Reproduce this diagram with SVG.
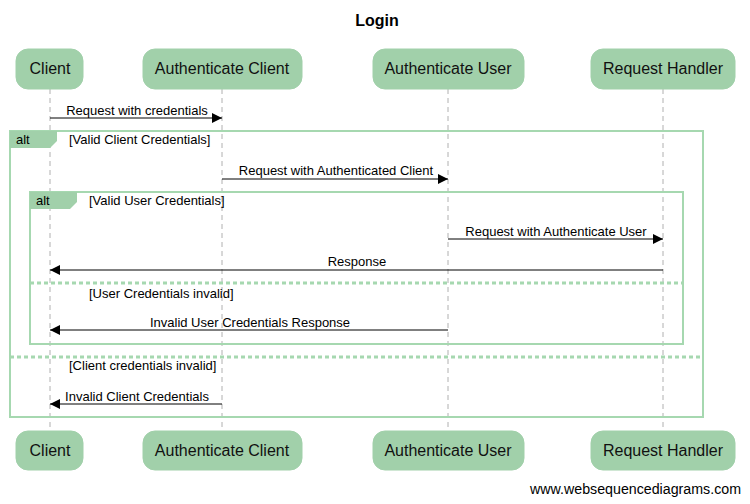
<svg xmlns="http://www.w3.org/2000/svg" width="750" height="504" viewBox="0 0 750 504">
<defs>
<style>
.box{fill:#a1d0aa;stroke:#a1d0aa;stroke-width:1}
.pt{font-family:"Liberation Sans",Arial,sans-serif;font-size:16px;fill:#111;text-anchor:middle}
.life{stroke:#b0b0b0;stroke-width:1;stroke-dasharray:5,4}
.msg{stroke:#000;stroke-width:1;fill:none}
.ml{font-family:"Liberation Sans",Arial,sans-serif;font-size:13px;fill:#000;text-anchor:middle}
.fl{font-family:"Liberation Sans",Arial,sans-serif;font-size:13px;fill:#000}
.frame{fill:none;stroke:#a6d8b0;stroke-width:2}
.tab{fill:#a1d0aa;stroke:none}
.sep{stroke:#a6d8b0;stroke-width:3;stroke-dasharray:4,3}
</style>
<marker id="ah" viewBox="0 0 10 10" refX="10" refY="5" markerWidth="10" markerHeight="10" markerUnits="userSpaceOnUse" orient="auto">
<path d="M0,0 L10,5 L0,10 z" fill="#000"/>
</marker>
</defs>
<rect width="750" height="504" fill="#fff"/>
<text x="377" y="26" font-family="Liberation Sans,Arial,sans-serif" font-size="16" font-weight="bold" text-anchor="middle" fill="#000">Login</text>

<g id="lifelines">
<line class="life" x1="50" y1="89" x2="50" y2="431"/>
<line class="life" x1="222" y1="89" x2="222" y2="431"/>
<line class="life" x1="448" y1="89" x2="448" y2="431"/>
<line class="life" x1="663" y1="89" x2="663" y2="431"/>
</g>

<g id="frames">
<rect class="frame" x="10" y="131" width="693" height="286"/>
<path class="tab" d="M10,131 H57 V141 L50,148 H10 z"/>
<text class="fl" x="16" y="144">alt</text>
<text class="fl" x="69" y="144">[Valid Client Credentials]</text>
<line class="sep" x1="10" y1="357" x2="703" y2="357"/>
<text class="fl" x="69" y="370">[Client credentials invalid]</text>

<rect class="frame" x="30" y="192" width="653" height="152"/>
<path class="tab" d="M30,192 H77 V202 L70,209 H30 z"/>
<text class="fl" x="36" y="205">alt</text>
<text class="fl" x="89" y="205">[Valid User Credentials]</text>
<line class="sep" x1="30" y1="283" x2="683" y2="283"/>
<text class="fl" x="89" y="298">[User Credentials invalid]</text>
</g>

<g id="connectors">
<line class="msg" x1="50" y1="118" x2="222" y2="118" marker-end="url(#ah)"/>
<text class="ml" x="137" y="115">Request with credentials</text>
<line class="msg" x1="222" y1="179" x2="448" y2="179" marker-end="url(#ah)"/>
<text class="ml" x="336" y="175">Request with Authenticated Client</text>
<line class="msg" x1="448" y1="239" x2="663" y2="239" marker-end="url(#ah)"/>
<text class="ml" x="556" y="236">Request with Authenticate User</text>
<line class="msg" x1="663" y1="270" x2="50" y2="270" marker-end="url(#ah)"/>
<text class="ml" x="357" y="266">Response</text>
<line class="msg" x1="448" y1="330" x2="50" y2="330" marker-end="url(#ah)"/>
<text class="ml" x="250" y="327">Invalid User Credentials Response</text>
<line class="msg" x1="222" y1="404" x2="50" y2="404" marker-end="url(#ah)"/>
<text class="ml" x="137" y="401">Invalid Client Credentials</text>
</g>

<g id="client-top"><rect class="box" x="16" y="49" width="67" height="40" rx="12"/><text class="pt" x="50" y="74">Client</text></g>
<g id="authclient-top"><rect class="box" x="143" y="49" width="159" height="40" rx="12"/><text class="pt" x="222" y="74">Authenticate Client</text></g>
<g id="authuser-top"><rect class="box" x="373" y="49" width="151" height="40" rx="12"/><text class="pt" x="448" y="74">Authenticate User</text></g>
<g id="handler-top"><rect class="box" x="591" y="49" width="144" height="40" rx="12"/><text class="pt" x="663" y="74">Request Handler</text></g>

<g id="client-bottom"><rect class="box" x="16" y="431" width="67" height="39" rx="12"/><text class="pt" x="50" y="456">Client</text></g>
<g id="authclient-bottom"><rect class="box" x="143" y="431" width="159" height="39" rx="12"/><text class="pt" x="222" y="456">Authenticate Client</text></g>
<g id="authuser-bottom"><rect class="box" x="373" y="431" width="151" height="39" rx="12"/><text class="pt" x="448" y="456">Authenticate User</text></g>
<g id="handler-bottom"><rect class="box" x="591" y="431" width="144" height="39" rx="12"/><text class="pt" x="663" y="456">Request Handler</text></g>

<text x="741" y="494" font-family="Liberation Sans,Arial,sans-serif" font-size="14" text-anchor="end" fill="#000" textLength="211" lengthAdjust="spacingAndGlyphs">www.websequencediagrams.com</text>
</svg>
